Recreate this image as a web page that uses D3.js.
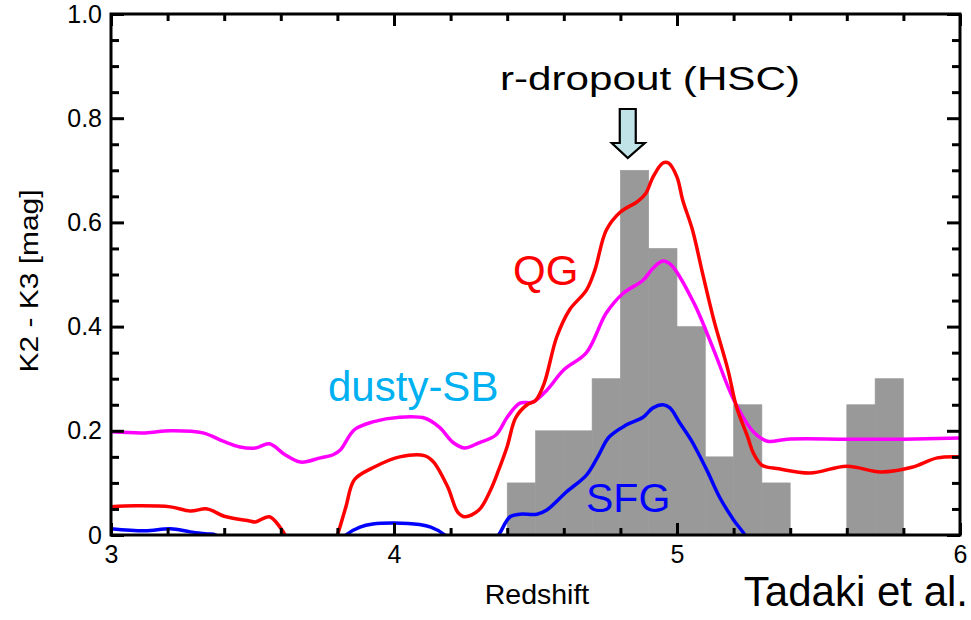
<!DOCTYPE html>
<html>
<head>
<meta charset="utf-8">
<script src="https://cdn.jsdelivr.net/npm/d3@7"></script>
<style>
  html, body { margin: 0; padding: 0; background: #fff; }
  svg { display: block; font-family: "Liberation Sans", Arial, Helvetica, sans-serif; }
</style>
</head>
<body>
<svg id="chart" width="971" height="620"></svg>
<script>
// Histogram of r-dropout (HSC) candidates, bins of 0.1 in redshift
const binStarts = [4.4, 4.5, 4.6, 4.7, 4.8, 4.9, 5.0, 5.1, 5.2, 5.3, 5.6, 5.7];
const binCounts = [0.10, 0.20, 0.20, 0.30, 0.70, 0.55, 0.40, 0.15, 0.25, 0.10, 0.25, 0.30];
const binWidth = 0.1;

// K2 - K3 colour tracks versus redshift for three galaxy templates
const qgZ = [3.0, 3.085, 3.21, 3.28, 3.34, 3.40, 3.49, 3.51, 3.56, 3.60, 3.615, 3.66, 3.75, 3.80, 3.83, 3.86, 3.925, 4.02, 4.11, 4.14, 4.19, 4.225, 4.25, 4.30, 4.34, 4.37, 4.40, 4.43, 4.47, 4.50, 4.53, 4.575, 4.62, 4.68, 4.71, 4.75, 4.80, 4.86, 4.89, 4.915, 4.95, 4.97, 5.0, 5.02, 5.055, 5.09, 5.13, 5.18, 5.21, 5.25, 5.27, 5.30, 5.36, 5.47, 5.60, 5.72, 5.83, 5.92, 6.0];
const qgColor = [0.054, 0.056, 0.054, 0.046, 0.050, 0.036, 0.027, 0.025, 0.035, 0.013, 0.0, -0.07, -0.07, 0.0, 0.054, 0.106, 0.129, 0.150, 0.152, 0.140, 0.092, 0.044, 0.035, 0.048, 0.085, 0.125, 0.170, 0.225, 0.250, 0.258, 0.290, 0.380, 0.432, 0.470, 0.509, 0.585, 0.620, 0.640, 0.656, 0.687, 0.714, 0.714, 0.687, 0.643, 0.585, 0.503, 0.413, 0.317, 0.246, 0.188, 0.157, 0.134, 0.127, 0.119, 0.132, 0.121, 0.130, 0.148, 0.150];

const sbZ = [3.0, 3.12, 3.21, 3.325, 3.396, 3.456, 3.51, 3.56, 3.615, 3.67, 3.74, 3.785, 3.81, 3.86, 3.925, 4.02, 4.11, 4.16, 4.21, 4.25, 4.30, 4.36, 4.40, 4.445, 4.49, 4.54, 4.60, 4.68, 4.75, 4.81, 4.88, 4.915, 4.95, 4.98, 5.06, 5.13, 5.20, 5.27, 5.32, 5.39, 5.60, 5.80, 6.0];
const sbColor = [0.198, 0.196, 0.200, 0.196, 0.180, 0.169, 0.167, 0.175, 0.154, 0.140, 0.148, 0.154, 0.163, 0.202, 0.217, 0.226, 0.224, 0.207, 0.177, 0.167, 0.177, 0.192, 0.226, 0.253, 0.255, 0.278, 0.317, 0.350, 0.426, 0.464, 0.489, 0.512, 0.526, 0.518, 0.445, 0.355, 0.260, 0.198, 0.180, 0.184, 0.184, 0.184, 0.186];

const sfgZ = [3.0, 3.12, 3.21, 3.28, 3.34, 3.37, 3.42, 3.78, 3.83, 3.88, 3.925, 4.0, 4.09, 4.13, 4.18, 4.23, 4.33, 4.37, 4.41, 4.445, 4.505, 4.54, 4.61, 4.68, 4.72, 4.76, 4.82, 4.88, 4.915, 4.95, 4.975, 5.01, 5.05, 5.105, 5.15, 5.20, 5.24, 5.28];
const sfgColor = [0.012, 0.008, 0.012, 0.006, 0.002, 0.0, -0.03, -0.03, 0.0, 0.015, 0.021, 0.023, 0.020, 0.015, 0.0, -0.03, -0.03, 0.0, 0.035, 0.040, 0.040, 0.048, 0.083, 0.115, 0.150, 0.188, 0.211, 0.226, 0.244, 0.250, 0.244, 0.215, 0.182, 0.125, 0.073, 0.029, 0.0, -0.04];

// Axis ticks
const xMajor = [3, 4, 5, 6];
const xMinor = [3.2, 3.4, 3.6, 3.8, 4.2, 4.4, 4.6, 4.8, 5.2, 5.4, 5.6, 5.8];
const yMajor = [0, 0.2, 0.4, 0.6, 0.8, 1.0];
const yMinor = [0.05, 0.1, 0.15, 0.25, 0.3, 0.35, 0.45, 0.5, 0.55, 0.65, 0.7, 0.75, 0.85, 0.9, 0.95];

const svg = d3.select("#chart");
const plot = { left: 111, right: 960, top: 14, bottom: 535 };

const x = d3.scaleLinear().domain([3, 6]).range([plot.left, plot.right]);
const y = d3.scaleLinear().domain([0, 1]).range([plot.bottom, plot.top]);

svg.append("defs").append("clipPath").attr("id", "plotClip")
  .append("rect").attr("x", plot.left).attr("y", plot.top)
  .attr("width", plot.right - plot.left).attr("height", plot.bottom - plot.top);

// Histogram bars
svg.append("g").selectAll("rect")
  .data(binStarts.map((s, i) => ({ s, c: binCounts[i] })))
  .join("rect")
  .attr("x", d => x(d.s))
  .attr("width", d => x(d.s + binWidth) - x(d.s))
  .attr("y", d => y(d.c))
  .attr("height", d => y(0) - y(d.c))
  .attr("fill", "#999999")
  .attr("stroke", "#999999")
  .attr("stroke-width", 0.6);

// Colour tracks
const line = d3.line()
  .x(d => x(d[0]))
  .y(d => y(d[1]))
  .curve(d3.curveCatmullRom.alpha(0.5));

const tracks = [
  { z: sbZ, v: sbColor, color: "#ff00ff" },
  { z: qgZ, v: qgColor, color: "#ff0000" },
  { z: sfgZ, v: sfgColor, color: "#0000ff" }
];
const gLines = svg.append("g").attr("clip-path", "url(#plotClip)");
tracks.forEach(t => {
  gLines.append("path")
    .datum(t.z.map((z, i) => [z, t.v[i]]))
    .attr("d", line)
    .attr("fill", "none")
    .attr("stroke", t.color)
    .attr("stroke-width", 3.5)
    .attr("stroke-linejoin", "round");
});

// Axes: inward ticks on all four sides
const fmt = d => d === 0 ? "0" : d3.format(".1f")(d);
function styleAxis(g) {
  g.select(".domain").remove();
  g.selectAll(".tick line").attr("stroke", "#000").attr("stroke-width", 3);
  g.selectAll(".tick text").attr("fill", "#000")
    .style("font-size", "25px")
    .style("font-family", "'Liberation Sans', Arial, Helvetica, sans-serif");
}
svg.append("g").attr("transform", `translate(0,${plot.bottom})`)
  .call(d3.axisBottom(x).tickValues(xMajor).tickSize(-12).tickPadding(10).tickFormat(d3.format("d")))
  .call(styleAxis);
svg.append("g").attr("transform", `translate(0,${plot.bottom})`)
  .call(d3.axisBottom(x).tickValues(xMinor).tickSize(-7).tickFormat(""))
  .call(styleAxis);
svg.append("g").attr("transform", `translate(0,${plot.top})`)
  .call(d3.axisTop(x).tickValues(xMajor).tickSize(-12).tickFormat(""))
  .call(styleAxis);
svg.append("g").attr("transform", `translate(0,${plot.top})`)
  .call(d3.axisTop(x).tickValues(xMinor).tickSize(-7).tickFormat(""))
  .call(styleAxis);
svg.append("g").attr("transform", `translate(${plot.left},0)`)
  .call(d3.axisLeft(y).tickValues(yMajor).tickSize(-13).tickPadding(9).tickFormat(fmt))
  .call(styleAxis);
svg.append("g").attr("transform", `translate(${plot.left},0)`)
  .call(d3.axisLeft(y).tickValues(yMinor).tickSize(-8).tickFormat(""))
  .call(styleAxis);
svg.append("g").attr("transform", `translate(${plot.right},0)`)
  .call(d3.axisRight(y).tickValues(yMajor).tickSize(-13).tickFormat(""))
  .call(styleAxis);
svg.append("g").attr("transform", `translate(${plot.right},0)`)
  .call(d3.axisRight(y).tickValues(yMinor).tickSize(-8).tickFormat(""))
  .call(styleAxis);

// Frame
svg.append("rect")
  .attr("x", plot.left).attr("y", plot.top)
  .attr("width", plot.right - plot.left).attr("height", plot.bottom - plot.top)
  .attr("fill", "none").attr("stroke", "#000").attr("stroke-width", 3);

// Axis titles
svg.append("text")
  .attr("x", 537).attr("y", 604)
  .attr("text-anchor", "middle")
  .style("font-size", "28.5px")
  .text("Redshift");

svg.append("text")
  .attr("transform", "translate(38,281) rotate(-90)")
  .attr("text-anchor", "middle")
  .attr("textLength", 183)
  .attr("lengthAdjust", "spacingAndGlyphs")
  .style("font-size", "25px")
  .text("K2 - K3 [mag]");

svg.append("text")
  .attr("x", 968).attr("y", 606)
  .attr("text-anchor", "end")
  .style("font-size", "42px")
  .text("Tadaki et al.");

// Template labels
svg.append("text").attr("x", 513).attr("y", 285)
  .attr("fill", "#ff0000").style("font-size", "42px").text("QG");
svg.append("text").attr("x", 328).attr("y", 401)
  .attr("fill", "#00b0f0").style("font-size", "42px").text("dusty-SB");
svg.append("text").attr("x", 586).attr("y", 512)
  .attr("fill", "#0000ff").style("font-size", "41px").text("SFG");

// r-dropout annotation with arrow
svg.append("text")
  .attr("x", 650).attr("y", 90)
  .attr("text-anchor", "middle")
  .attr("textLength", 300)
  .attr("lengthAdjust", "spacingAndGlyphs")
  .style("font-size", "33px")
  .text("r-dropout (HSC)");

const ax = x(4.826);
const arrowPts = [
  [ax - 8, 109], [ax + 8, 109], [ax + 8, 143], [ax + 17, 143],
  [ax, 158], [ax - 16, 143], [ax - 8, 143]
];
svg.append("path")
  .attr("d", d3.line()(arrowPts) + "Z")
  .attr("fill", "#bfe3e6")
  .attr("stroke", "#000")
  .attr("stroke-width", 2.2)
  .attr("stroke-linejoin", "miter");
</script>
</body>
</html>
